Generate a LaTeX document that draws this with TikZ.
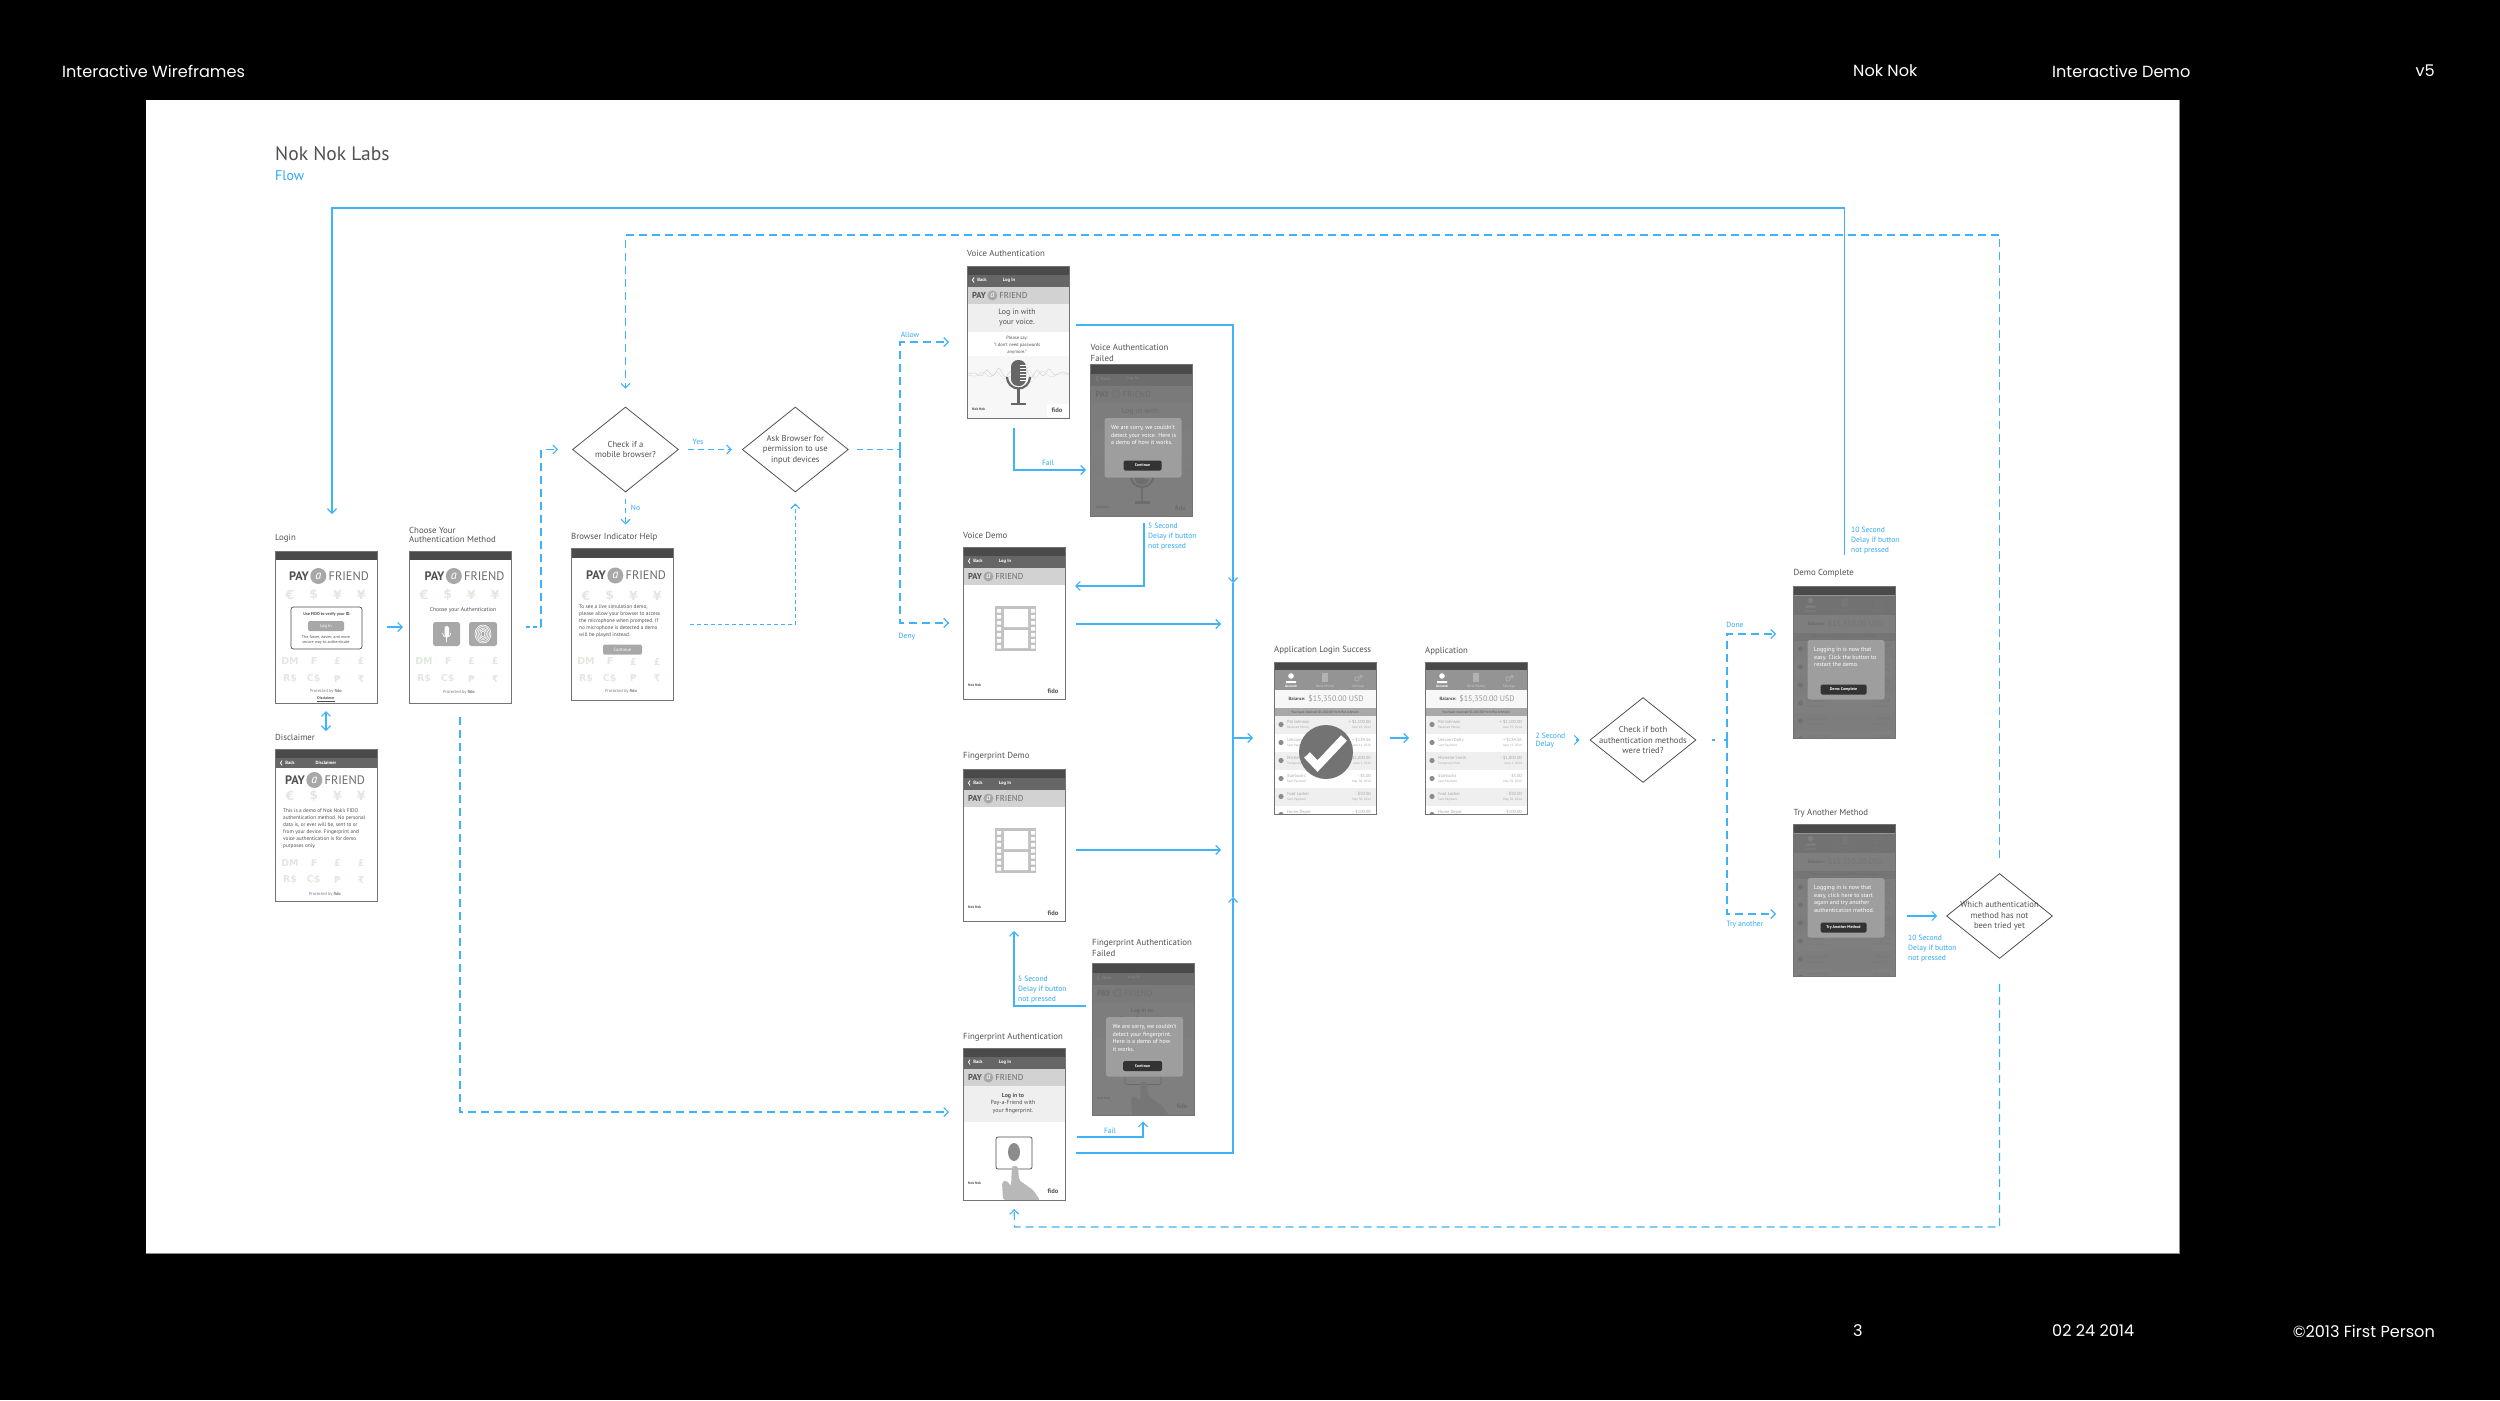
\documentclass[tikz,border=0pt]{standalone}
\usepackage{fontspec}
\setmainfont{PT Sans}
\newfontfamily\headfont{Poppins}
\newfontfamily\symfont{DejaVu Sans}
\usetikzlibrary{positioning,shapes.geometric,arrows.meta}

\definecolor{flowblue}{HTML}{3FB2F8}
\definecolor{labelblue}{HTML}{2FA9F6}
\definecolor{inkgrey}{HTML}{505153}
\definecolor{bardark}{HTML}{4A4A4A}
\definecolor{barmid}{HTML}{666666}
\definecolor{bandgrey}{HTML}{D2D2D2}
\definecolor{palegrey}{HTML}{EFEFEF}
\definecolor{buttongrey}{HTML}{A8A8A8}
\definecolor{coingreen}{HTML}{E1E9DF}

\newcommand{\fsize}[2]{\fontsize{#1}{#2}\selectfont}
\newcommand{\inscreen}[2]{\begin{scope}[shift={(#1.north west)}]
  \begin{scope}\clip (0,0) rectangle (102,152); #2 \end{scope}
  \draw[frameline] (0,0) rectangle (102,152);
\end{scope}}
\newcommand{\topbar}{\fill[bardark] (0,0) rectangle (102,9);}
\newcommand{\paylogo}[6]{%
  \node[logoword,anchor=west,text=inkgrey,font=\bfseries\fsize{#4}{#4}] (#1pay) at (#2,#3) {PAY};
  \node[circle,fill=buttongrey,inner sep=0,text=white,minimum size=#5pt,font=\itshape\fsize{#4}{#4},right=1pt of #1pay] (#1dot) {a};
  \node[logoword,text=inkgrey!85,font=\fsize{#4}{#4},right=#6pt of #1dot] (#1friend) {FRIEND};}
\newcommand{\biglogo}[3]{\paylogo{#1}{#2}{#3}{12.3}{16}{2}}
\newcommand{\backbar}[4]{%
  \fill[barmid] (0,9) rectangle (102,#4);
  \draw[white,line width=.8pt] (7,11.5) -- (5.5,14) -- (7,16.5);
  \node[bartext] (#1back) at (15,14) {Back};
  \node[bartext] (#1title) at (#3,14) {#2};}
\newcommand{\bandlogo}[1]{%
  \fill[bandgrey] (0,21) rectangle (102,38);
  \paylogo{#1}{5}{29.5}{8.6}{10}{1.5}}
\newcommand{\coins}[4]{%
  \foreach \sym [count=\i] in {€,\$,¥,¥}
    \node[coin,font=\symfont\bfseries\fsize{12.5}{13}] (#1coina\i) at ({15+(\i-1)*23.7},#2) {\sym};
  \foreach \sym [count=\i] in {DM,₣,£,£}
    \node[coin] (#1coinb\i) at ({15+(\i-1)*23.7},#3) {\sym};
  \foreach \sym [count=\i] in {R\$,C\$,₱,₹}
    \node[coin] (#1coinc\i) at ({15+(\i-1)*23.7},#4) {\sym};}
\newcommand{\protectedby}[3]{\node[screentext,anchor=center,text=gray,font=\fsize{4.4}{5}] (#1prot) at (#2,#3) {Protected by \textbf{fido}};}
\newcommand{\nokfido}[3]{%
  \fill[white] (80,#3-6) rectangle (102,#3+7);
  \node[screentext,anchor=west,text=inkgrey,font=\bfseries\fsize{3.6}{4}] (#1nok) at (5,#2) {Nok Nok};
  \node[screentext,anchor=center,text=inkgrey,font=\bfseries\fsize{6.5}{7}] (#1fido) at (90,#3) {fido};}
\newcommand{\filmscreen}[1]{%
  \topbar\backbar{#1}{Log In}{42}{21}\bandlogo{#1}
  \fill[buttongrey!70] (32,59) rectangle (73,104);
  \fill[white] (41,62) rectangle (65,80) (41,83) rectangle (65,101);
  \foreach \py in {62,68,74,80,86,92,98}
    \fill[white] (34,\py) rectangle (38,\py+3.6) (68,\py) rectangle (72,\py+3.6);
  \nokfido{#1}{138}{144}}
\newcommand{\voicescreen}[1]{%
  \topbar\backbar{#1}{Log In}{42}{21}\bandlogo{#1}
  \fill[palegrey] (0,38) rectangle (102,66);
  \fill[black!3] (0,90) rectangle (102,152);
  \node[screentext,anchor=center,align=center,font=\fsize{7.8}{10}] (#1say) at (50,52) {Log in with\\your voice.};
  \node[screentext,anchor=center,align=center,font=\fsize{4.6}{7}] (#1phrase) at (50,79) {Please say:\\``I don't need passwords\\anymore.''};
  \draw[black!22,line width=.3pt] plot[smooth] coordinates {(0,108) (8,107) (14,110) (20,104) (26,110) (32,102) (38,111) (44,105) (50,109) (58,101) (64,112) (70,104) (76,110) (82,103) (88,109) (95,106) (102,108)};
  \draw[black!16,line width=.3pt] plot[smooth] coordinates {(0,109) (9,110) (16,106) (23,111) (30,106) (37,113) (44,110) (56,112) (62,104) (68,112) (75,105) (84,111) (92,108) (102,109)};
  \fill[barmid,rounded corners=7pt] (44,94) rectangle (59,120);
  \foreach \py in {99,102,105,108,111,114} \draw[white,line width=.6pt] (53,\py) -- (59,\py);
  \draw[barmid,line width=2.2pt] (40,111) arc[start angle=180,end angle=360,radius=11.5pt];
  \draw[barmid,line width=2.2pt] (51.5,122) -- (51.5,137);
  \draw[barmid,line width=2.2pt] (44,138) -- (59,138);
  \nokfido{#1}{143}{144}}
\newcommand{\fingerscreen}[1]{%
  \topbar\backbar{#1}{Log In}{42}{21}\bandlogo{#1}
  \fill[palegrey] (0,38) rectangle (102,74);
  \node[screentext,anchor=center,align=center,font=\fsize{5.9}{7.7}] (#1say) at (50,55.5) {\textbf{Log in to}\\Pay-a-Friend with\\your fingerprint.};
  \nokfido{#1}{135}{143}
  \draw[bardark,line width=.7pt,rounded corners=2pt,fill=white] (33,89) rectangle (69,121);
  \fill[black!45] (51,104) ellipse[x radius=6pt,y radius=9pt];
  \fill[black!28,rounded corners=2pt] (49,118) -- (55,118) -- (56,132) -- (70,142) -- (77,152) -- (40,152) -- (39,134) -- (43,132) -- (48,138) -- cycle;}
\newcommand{\appscreen}[1]{%
  \fill[bardark] (0,0) rectangle (102,8);
  \fill[black!42] (0,8) rectangle (102,28);
  \fill[white] (17,14) circle[radius=2.8pt] (12,21) rectangle (22,19);
  \fill[black!30] (48,11) rectangle (54,20);
  \draw[black!30,line width=.7pt] (83,17) circle[radius=2.2pt] (87,14.5) circle[radius=1.4pt];
  \node[tabtext,text=white] (#1tabone) at (17,24.5) {\textbf{Account}};
  \node[tabtext] (#1tabtwo) at (51,24.5) {Send Money};
  \node[tabtext] (#1tabthree) at (84,24.5) {Settings};
  \fill[black!3] (0,28) rectangle (102,46);
  \node[screentext,anchor=center,font=\bfseries\fsize{4.6}{5}] (#1balance) at (23,37) {Balance:};
  \node[screentext,anchor=center,text=black!40,font=\fsize{8}{8}] (#1sum) at (62,37) {\$15,350.00 USD};
  \fill[buttongrey] (0,46) rectangle (102,54);
  \node[screentext,anchor=center,font=\fsize{3.4}{4}] (#1note) at (51,50) {You have received \$1,100.00 from Pat Johnson};
  \foreach \who/\what/\amount/\when [count=\i] in {Pat Johnson/Received Money/{+ \$1,100.00}/{June 19, 2014},Unicorn Daily/Sent Payment/{+ \$134.56}/{June 11, 2014},Michelle Smith/Temporary Hold/{- \$1,000.00}/{June 1, 2014},Starbucks/Sent Payment/{- \$5.00}/{May 30, 2014},Foot Locker/Sent Payment/{- \$50.00}/{May 30, 2014},Home Depot/{}/{- \$100.00}/{}}{
    \pgfmathsetmacro\rowtop{54+18*(\i-1)}
    \ifodd\i \fill[palegrey] (0,\rowtop) rectangle (102,\rowtop+18); \fi
    \fill[black!45] (7,\rowtop+8.5) circle[radius=2.6pt];
    \node[rowtext,anchor=west,font=\fsize{4.4}{5}] (#1who\i) at (13,\rowtop+6) {\who};
    \node[rowtext,anchor=west] (#1what\i) at (13,\rowtop+12) {\what};
    \node[rowtext,anchor=east,font=\fsize{4.4}{5}] (#1amount\i) at (97,\rowtop+6) {\amount};
    \node[rowtext,anchor=east] (#1when\i) at (97,\rowtop+12) {\when};
  }}
\newcommand{\dimmer}{\fill[black!57,opacity=.88] (0,9) rectangle (102,152);}
\newcommand{\dialogbox}[6]{%
  \fill[black!38,rounded corners=2.5pt] (14,53.5) rectangle (91,113);
  \node[screentext,anchor=north west,text=white,font=\fsize{6}{7.5}] (#1sorry) at (20.5,61) {#2};
  \node[rectangle,fill=black!80,rounded corners=1.5pt,text=white,inner sep=0,minimum width=#3pt,minimum height=10pt,font=\bfseries\fsize{4}{5}] (#1button) at (#4,#5) {#6};}

\begin{document}
\begin{tikzpicture}[x=1pt,y=-1pt,
    screen/.style={rectangle,fill=white,minimum width=102pt,minimum height=152pt,inner sep=0,outer sep=0},
    frameline/.style={draw=black!55,line width=1pt},
    screenlabel/.style={text=inkgrey,inner sep=0,align=left,font=\fsize{8.8}{10.5}},
    screentext/.style={text=inkgrey,inner sep=0,align=left,font=\fsize{5.3}{7}},
    rowtext/.style={text=black!35,inner sep=0,font=\fsize{3.2}{4}},
    tabtext/.style={text=black!20,inner sep=0,font=\fsize{3.5}{4}},
    bartext/.style={text=white,inner sep=0,font=\bfseries\fsize{4.6}{5}},
    logoword/.style={inner sep=0},
    coin/.style={text=coingreen,inner sep=0,font=\symfont\bfseries\fsize{9.5}{10}},
    greybutton/.style={rectangle,fill=buttongrey,rounded corners=1.5pt,text=white,inner sep=0},
    decision/.style={diamond,draw=inkgrey,line width=.8pt,minimum width=106pt,minimum height=85pt,inner sep=-16pt,align=center,text=inkgrey,font=\fsize{8.6}{10.6}},
    flowsolid/.style={draw=flowblue,line width=1.1pt,-{Straight Barb[length=4.5pt,width=9pt]}},
    flowplain/.style={draw=flowblue,line width=1.1pt},
    flowdash/.style={flowsolid,dash pattern=on 8pt off 5pt},
    flowdots/.style={flowsolid,dash pattern=on 4pt off 3pt},
    flowtext/.style={text=labelblue,inner sep=0,align=left,font=\fsize{7.6}{10}},
    headtext/.style={text=white,inner sep=0,font=\headfont\fsize{16.1}{18}}]

\useasboundingbox (0,0) rectangle (2500,1400);
\fill[black] (0,0) rectangle (2500,1400);
\fill[white] (146,100) rectangle (2179,1253);
\draw[black!45,line width=1pt] (2179,100) -- (2179,1253) -- (146,1253);

\node[headtext,anchor=west] (headleft) at (62,71) {Interactive Wireframes};
\node[headtext,anchor=west] (headclient) at (1853,71) {Nok Nok};
\node[headtext,anchor=west] (headdemo) at (2052,71) {Interactive Demo};
\node[headtext,anchor=east] (headversion) at (2435,71) {v5};
\node[headtext,anchor=west] (footpage) at (1853,1331) {3};
\node[headtext,anchor=west] (footdate) at (2052,1331) {02 24 2014};
\node[headtext,anchor=east] (footcopy) at (2435,1331) {©2013 First Person};

\node[inner sep=0,anchor=west,text=inkgrey,font=\fsize{19.5}{22}] (title) at (275,153.5) {Nok Nok Labs};
\node[inner sep=0,anchor=west,text=labelblue,font=\fsize{14}{16}] (subtitle) at (275,176) {Flow};

\node[screen] (login) at (326,627) {};
\node[screen] (choose) [right=32pt of login] {};
\node[screen] (browserhelp) [right=60pt of choose,yshift=2.5pt] {};
\node[screen] (disclaimer) [below=46pt of login] {};
\node[screen] (voiceauth) at (1018,342) {};
\node[screen] (voicefail) at (1141.5,440.5) {};
\node[screen] (voicedemo) at (1014,623) {};
\node[screen] (fingerdemo) [below=70pt of voicedemo] {};
\node[screen] (fingerauth) [below=127pt of fingerdemo] {};
\node[screen] (fingerfail) at (1143,1039.5) {};
\node[screen] (loginsuccess) at (1325,738) {};
\node[screen] (application) [right=49pt of loginsuccess] {};
\node[screen] (democomplete) at (1844.5,662.5) {};
\node[screen] (tryanother) [below=86pt of democomplete] {};

\node[decision] (mobile) at (625.5,449.5) {Check if a\\mobile browser?};
\node[decision] (ask) [right=63pt of mobile] {Ask Browser for\\permission to use\\input devices};
\node[decision] (both) at (1643,740) {Check if both\\authentication methods\\were tried?};
\node[decision] (which) at (1999.5,916) {Which authentication\\method has not\\been tried yet};

\node[screenlabel] (loginlabel) [above right=8pt and 0pt of login.north west] {Login};
\node[screenlabel,font=\fsize{8.8}{9.5}] (chooselabel) [above right=8pt and 0pt of choose.north west] {Choose Your\\Authentication Method};
\node[screenlabel] (helplabel) [above right=7pt and 0pt of browserhelp.north west] {Browser Indicator Help};
\node[screenlabel] (disclaimerlabel) [above right=8pt and 0pt of disclaimer.north west] {Disclaimer};
\node[screenlabel] (voiceauthlabel) [above right=9pt and 0pt of voiceauth.north west] {Voice Authentication};
\node[screenlabel] (voicefaillabel) [above right=3pt and 0pt of voicefail.north west] {Voice Authentication\\Failed};
\node[screenlabel] (voicedemolabel) [above right=8pt and 0pt of voicedemo.north west] {Voice Demo};
\node[screenlabel] (fingerdemolabel) [above right=8pt and 0pt of fingerdemo.north west] {Fingerprint Demo};
\node[screenlabel] (fingerauthlabel) [above right=6pt and 0pt of fingerauth.north west] {Fingerprint Authentication};
\node[screenlabel] (fingerfaillabel) [above right=7pt and 0pt of fingerfail.north west] {Fingerprint Authentication\\Failed};
\node[screenlabel] (successlabel) [above right=7pt and 0pt of loginsuccess.north west] {Application Login Success};
\node[screenlabel] (applabel) [above right=7pt and 0pt of application.north west] {Application};
\node[screenlabel] (completelabel) [above right=9pt and 0pt of democomplete.north west] {Demo Complete};
\node[screenlabel] (trylabel) [above right=7pt and 0pt of tryanother.north west] {Try Another Method};

\inscreen{login}{\topbar\biglogo{login}{14}{25}\coins{login}{44}{110}{128}
  \draw[bardark,line width=.7pt,rounded corners=2.5pt] (16,56) rectangle (87,98);
  \node[screentext,anchor=center,font=\bfseries\fsize{4.2}{5}] (loginfido) at (52,63) {Use FIDO to verify your ID.};
  \node[greybutton,minimum width=36pt,minimum height=10pt,font=\fsize{4.4}{5}] (loginbutton) at (51,75) {Log In};
  \node[screentext,anchor=center,align=center,font=\fsize{4.1}{5.4}] (loginfaster) at (51,89) {The faster, easier, and more\\secure way to authenticate};
  \protectedby{login}{51}{140}
  \node[screentext,anchor=center,font=\bfseries\fsize{3.8}{4}] (loginlink) at (51,148) {\underline{Disclaimer}};}
\inscreen{choose}{\topbar\biglogo{choose}{15.5}{25}\coins{choose}{44}{110}{128}
  \node[screentext,anchor=center,font=\fsize{5.6}{7}] (choosetext) at (54,59) {Choose your Authentication};
  \fill[buttongrey,rounded corners=2.5pt] (24,71) rectangle (51,95) (60,71) rectangle (88,95);
  \fill[white,rounded corners=1.5pt] (35.5,75) rectangle (40,86);
  \draw[white,line width=.7pt] (33.5,82) arc[start angle=180,end angle=360,radius=4.2pt];
  \draw[white,line width=.7pt] (37.7,86) -- (37.7,91);
  \foreach \ringsize in {2,3.5,5,6.5,8} \draw[white,line width=.6pt] (74,83) ellipse[x radius=\ringsize pt,y radius=\ringsize pt+1pt];
  \protectedby{choose}{50}{141}}
\inscreen{browserhelp}{\topbar\biglogo{help}{15}{27}\coins{help}{47}{113}{130}
  \node[screentext,anchor=north west] (helptext) at (8,56) {To see a live simulation demo,\\please allow your browser to access\\the microphone when prompted. If\\no microphone is detected a demo\\will be played instead.};
  \node[greybutton,minimum width=39pt,minimum height=10pt,font=\fsize{4.6}{5}] (helpbutton) at (51.5,101) {Continue};
  \protectedby{help}{50}{143}}
\inscreen{disclaimer}{\topbar\backbar{disc}{Disclaimer}{51}{19}\biglogo{disc}{10}{31}\coins{disc}{47}{114}{131}
  \node[screentext,anchor=north west] (disctext) at (8,59.5) {This is a demo of Nok Nok's FIDO\\authentication method. No personal\\data is, or ever will be, sent to or\\from your device. Fingerprint and\\voice authentication is for demo\\purposes only.};
  \protectedby{disc}{50}{145}}
\inscreen{voiceauth}{\voicescreen{va}}
\inscreen{voicefail}{\voicescreen{vf}\dimmer
  \dialogbox{vf}{We are sorry, we couldn't\\detect your voice. Here is\\a demo of how it works.}{38}{52}{101}{Continue}}
\inscreen{voicedemo}{\filmscreen{vd}}
\inscreen{fingerdemo}{\filmscreen{fd}}
\inscreen{fingerauth}{\fingerscreen{fa}}
\inscreen{fingerfail}{\fingerscreen{ff}\dimmer
  \dialogbox{ff}{We are sorry, we couldn't\\detect your fingerprint.\\Here is a demo of how\\it works.}{39}{50.5}{102.5}{Continue}}
\inscreen{loginsuccess}{\appscreen{ls}
  \fill[black!55] (52,90) circle[radius=27pt];
  \draw[white,line width=8pt] (33,93) -- (43.5,104) -- (70,76);}
\inscreen{application}{\appscreen{ap}}
\inscreen{democomplete}{\appscreen{dc}\dimmer
  \dialogbox{dc}{Logging in is now that\\easy. Click the button to\\restart the demo.}{46}{50}{103}{Demo Complete}}
\inscreen{tryanother}{\appscreen{ta}\dimmer
  \dialogbox{ta}{Logging in is now that\\easy, click here to start\\again and try another\\authentication method.}{46}{50}{103}{Try Another Method}}

\coordinate (looptop) at (332,208);
\coordinate (loginin) at (332,514);
\coordinate (dashtop) at (625.5,235);
\coordinate (retrycorner) at (1014.5,1227);
\coordinate (choosefork) at (541,627);
\coordinate (fingerin) at (949,1112);
\coordinate (askfork) at (900,449.5);
\coordinate (voicefailfrom) at (1014,428);
\coordinate (voicefailin) at (1086,470);
\coordinate (voiceout) at (1076,325);
\coordinate (trunkdown) at (1233,583);
\coordinate (trunkup) at (1233,897);
\coordinate (trunkjoin) at (1233,738);
\coordinate (fingerout) at (1076,1153);
\coordinate (voicedelay) at (1144,523);
\coordinate (voicedelayin) at (1075,586);
\coordinate (voicedemoout) at (1076,624);
\coordinate (voicedemoin) at (1221,624);
\coordinate (fingerdemoout) at (1076,850);
\coordinate (fingerdemoin) at (1221,850);
\coordinate (fingerdelay) at (1086,1006);
\coordinate (fingerfailfrom) at (1077,1137);
\coordinate (bothfork) at (1727,740);
\coordinate (donein) at (1776,634);
\coordinate (tryin) at (1776,914);

\draw[flowsolid,shorten <=32pt] (democomplete.north) |- (looptop) -- (loginin);
\draw[flowdash,shorten <=15pt,shorten >=18pt] (which.north) |- (dashtop) -- (mobile.north);
\draw[flowdash,shorten <=25pt,shorten >=9pt] (which.south) |- (retrycorner) -- (fingerauth.south);
\draw[flowsolid,shorten <=10pt,shorten >=6pt] (login) -- (choose);
\draw[flowsolid,{Straight Barb[length=4.5pt,width=9pt]}-{Straight Barb[length=4.5pt,width=9pt]},shorten <=8pt,shorten >=18pt] (login) -- (disclaimer);
\draw[flowdash,-,dash pattern=on 4pt off 3pt,shorten <=15pt] (choose.east) -- (choosefork);
\draw[flowdash,shorten >=14pt] (choosefork) |- (mobile.west);
\draw[flowdash,shorten <=14pt] (choose.south) |- (fingerin);
\draw[flowdash,dash pattern=on 5pt off 4pt,shorten <=7pt,shorten >=24pt] (mobile.south) -- (mobile.south |- browserhelp.north);
\draw[flowdash,dash pattern=on 6pt off 4pt,shorten <=9pt,shorten >=10pt] (mobile) -- (ask);
\draw[flowdots,shorten <=17pt,shorten >=11pt] (browserhelp.east) -| (ask.south);
\draw[flowdash,-,dash pattern=on 6pt off 4pt,shorten <=8pt] (ask.east) -- (askfork);
\draw[flowdash,shorten >=18pt] (askfork) |- (voiceauth.west);
\draw[flowdash,shorten >=14pt] (askfork) |- (voicedemo.west);
\draw[flowsolid] (voicefailfrom) |- (voicefailin);
\draw[flowsolid] (voiceout) -| (trunkdown);
\draw[flowplain] (trunkdown) -- (trunkup);
\draw[flowsolid] (fingerout) -| (trunkup);
\draw[flowsolid,shorten >=21pt] (trunkjoin) -- (loginsuccess.west);
\draw[flowsolid] (voicedelay) |- (voicedelayin);
\draw[flowsolid] (voicedemoout) -- (voicedemoin);
\draw[flowsolid] (fingerdemoout) -- (fingerdemoin);
\draw[flowsolid,shorten >=10pt] (fingerdelay) -| (fingerdemo.south);
\draw[flowsolid,shorten >=6pt] (fingerfailfrom) -| (fingerfail.south);
\draw[flowsolid,shorten <=14pt,shorten >=16pt] (loginsuccess) -- (application);
\draw[flowsolid,shorten <=49pt,shorten >=10pt] (application.east |- both.west) -- (both.west);
\draw[flowdash,-,dash pattern=on 3pt off 9pt,shorten <=16pt] (both.east) -- (bothfork);
\draw[flowdash] (bothfork) |- (donein);
\draw[flowdash] (bothfork) |- (tryin);
\draw[flowsolid,shorten <=11pt,shorten >=9pt] (tryanother.east |- which.west) -- (which.west);

\node[flowtext,anchor=center] (yeslabel) at (698,442) {Yes};
\node[flowtext,anchor=center] (nolabel) at (635.5,508) {No};
\node[flowtext,anchor=center] (allowlabel) at (910,335) {Allow};
\node[flowtext,anchor=center] (denylabel) at (907,637) {Deny};
\node[flowtext,anchor=center] (voicefaillink) at (1048,463) {Fail};
\node[flowtext,anchor=center] (fingerfaillink) at (1110,1131) {Fail};
\node[flowtext,anchor=north west] (voicedelaylabel) at (1148,523) {5 Second\\Delay if button\\not pressed};
\node[flowtext,anchor=north west] (fingerdelaylabel) at (1018,976) {5 Second\\Delay if button\\not pressed};
\node[flowtext,anchor=west,font=\fsize{7.6}{8}] (twosecond) at (1535.5,741) {2 Second\\Delay};
\node[flowtext,anchor=center] (donelabel) at (1735,625) {Done};
\node[flowtext,anchor=center] (trylink) at (1745,925) {Try another};
\node[flowtext,anchor=north west] (restartlabel) at (1851,527) {10 Second\\Delay if button\\not pressed};
\node[flowtext,anchor=north west] (whichlabel) at (1908,935) {10 Second\\Delay if button\\not pressed};
\end{tikzpicture}
\end{document}
